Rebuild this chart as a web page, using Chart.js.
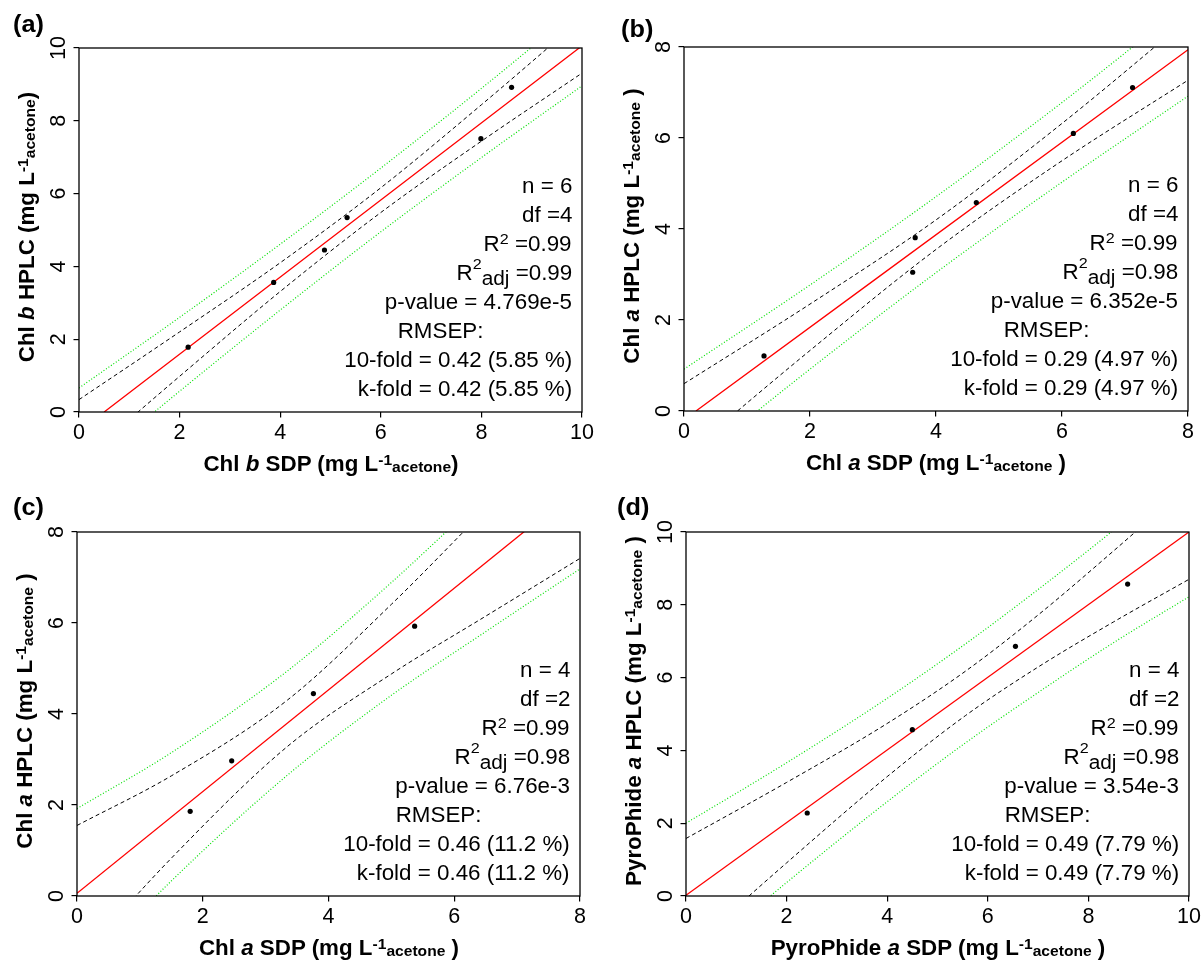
<!DOCTYPE html>
<html>
<head>
<meta charset="utf-8">
<title>SDP vs HPLC pigment calibration</title>
<script src="https://cdn.jsdelivr.net/npm/chart.js@4.4.1/dist/chart.umd.min.js"></script>
<style>
  html, body { margin: 0; padding: 0; background: #fff; }
  #page { position: relative; width: 1204px; height: 961px; overflow: hidden;
          font-family: "Liberation Sans", Arial, sans-serif; color: #000; }
  #page canvas { position: absolute; }
  .txt { position: absolute; white-space: nowrap; line-height: 22px; font-size: 21.5px; }
  .stat { transform-origin: 100% 50%; transform: scaleX(1.04); }
  .xttl { font-weight: bold; transform: translate(-50%, 0) scaleX(1.04); }
  .yttl { font-weight: bold; transform: translate(-50%, -50%) rotate(-90deg) scaleX(1.04); }
  .tag { font-weight: bold; font-size: 23px; transform-origin: 0 50%; transform: scaleX(1.1); }
  .tsup { position: relative; font-size: 15px; top: -6.5px; }
  .tsub { position: relative; font-size: 15px; top: 1px; }
  .sup { position: relative; font-size: 15.5px; top: -7px; }
  .sup2 { position: relative; font-size: 15.5px; top: -11px; }
  .sub { position: relative; font-size: 20px; top: 5px; }
</style>
</head>
<body>
<div id="page"></div>
<script>
// ---- panel (a): Chl b ----
const aSdp    = [2.17, 3.87, 4.88, 5.33, 7.99, 8.60];
const aHplc   = [1.78, 3.56, 4.45, 5.34, 7.51, 8.92];
const aFitX   = [0.5, 10];
const aFitY   = [0, 10.06];
const aBandX  = [0, 2, 4, 6, 8, 10];
const aConfUp = [0.34, 2.20, 4.10, 6.16, 8.44, 10.81];
const aConfLo = [-1.40, 0.98, 3.31, 5.48, 7.44, 9.31];
const aPredUp = [0.66, 2.60, 4.61, 6.70, 8.89, 11.16];
const aPredLo = [-1.72, 0.57, 2.80, 4.95, 6.99, 8.96];
const aStats  = ['6', '4', '0.99', '0.99', '4.769e-5', '0.42', '5.85'];

// ---- panel (b): Chl a ----
const bSdp    = [1.27, 3.63, 3.67, 4.64, 6.18, 7.12];
const bHplc   = [1.21, 3.05, 3.81, 4.58, 6.10, 7.11];
const bFitX   = [0.19, 8];
const bFitY   = [0, 7.94];
const bBandX  = [0, 2, 4, 6, 8];
const bConfUp = [0.60, 2.35, 4.20, 6.32, 8.61];
const bConfLo = [-0.99, 1.33, 3.55, 5.50, 7.27];
const bPredUp = [0.92, 2.77, 4.71, 6.78, 8.97];
const bPredLo = [-1.30, 0.92, 3.04, 5.03, 6.92];
const bStats  = ['6', '4', '0.99', '0.98', '6.352e-5', '0.29', '4.97'];

// ---- panel (c): Chl a ----
const cSdp    = [1.80, 2.46, 3.76, 5.37];
const cHplc   = [1.86, 2.97, 4.45, 5.93];
const cFitX   = [0, 8];
const cFitY   = [0.06, 9.0];
const cBandX  = [0, 1.5, 3.35, 5, 6.5, 8];
const cConfUp = [1.55, 2.64, 4.31, 6.41, 8.50, 10.58];
const cConfLo = [-1.43, 0.83, 3.29, 4.88, 6.15, 7.42];
const cPredUp = [1.92, 3.15, 4.95, 6.89, 8.83, 10.81];
const cPredLo = [-1.80, 0.33, 2.66, 4.41, 5.81, 7.19];
const cStats  = ['4', '2', '0.99', '0.98', '6.76e-3', '0.46', '11.2'];

// ---- panel (d): PyroPhide a ----
const dSdp    = [2.41, 4.50, 6.55, 8.78];
const dHplc   = [2.28, 4.57, 6.86, 8.57];
const dFitX   = [0, 10];
const dFitY   = [0.02, 10.0];
const dBandX  = [0, 2, 4, 5.56, 7, 8.5, 10];
const dConfUp = [1.58, 3.12, 4.74, 6.18, 7.72, 9.48, 11.30];
const dConfLo = [-1.54, 0.91, 3.28, 4.96, 6.29, 7.53, 8.70];
const dPredUp = [2.00, 3.66, 5.43, 6.93, 8.42, 10.05, 11.78];
const dPredLo = [-1.96, 0.37, 2.59, 4.21, 5.59, 6.96, 8.22];
const dStats  = ['4', '2', '0.99', '0.98', '3.54e-3', '0.49', '7.79'];

const UNIT = 'mg L<span class="tsup">-1</span><span class="tsub">acetone</span>';

// Layout of the four panels (page pixels): canvas origin and plot area [left, top, right, bottom]
const panels = [
  { tag: '(a)', tagPos: [13, 32], canvas: [0, 0], area: [79, 48, 582, 412], max: 10,
    sdp: aSdp, hplc: aHplc, fitX: aFitX, fitY: aFitY, bandX: aBandX,
    confUp: aConfUp, confLo: aConfLo, predUp: aPredUp, predLo: aPredLo, stats: aStats,
    xTitle: 'Chl <i>b</i> SDP (' + UNIT + ')', yTitle: 'Chl <i>b</i> HPLC (' + UNIT + ')' },
  { tag: '(b)', tagPos: [621, 37], canvas: [602, 0], area: [684, 47, 1188, 411], max: 8,
    sdp: bSdp, hplc: bHplc, fitX: bFitX, fitY: bFitY, bandX: bBandX,
    confUp: bConfUp, confLo: bConfLo, predUp: bPredUp, predLo: bPredLo, stats: bStats,
    xTitle: 'Chl <i>a</i> SDP (' + UNIT + ' )', yTitle: 'Chl <i>a</i> HPLC (' + UNIT + ' )' },
  { tag: '(c)', tagPos: [13, 515], canvas: [0, 481], area: [77, 532, 580, 896], max: 8,
    sdp: cSdp, hplc: cHplc, fitX: cFitX, fitY: cFitY, bandX: cBandX,
    confUp: cConfUp, confLo: cConfLo, predUp: cPredUp, predLo: cPredLo, stats: cStats,
    xTitle: 'Chl <i>a</i> SDP (' + UNIT + ' )', yTitle: 'Chl <i>a</i> HPLC (' + UNIT + ' )' },
  { tag: '(d)', tagPos: [617, 515], canvas: [602, 481], area: [686, 532, 1189, 896], max: 10,
    sdp: dSdp, hplc: dHplc, fitX: dFitX, fitY: dFitY, bandX: dBandX,
    confUp: dConfUp, confLo: dConfLo, predUp: dPredUp, predLo: dPredLo, stats: dStats,
    xTitle: 'PyroPhide <i>a</i> SDP (' + UNIT + ' )', yTitle: 'PyroPhide <i>a</i> HPLC (' + UNIT + ' )' }
];

const CANVAS_W = 602;
const CANVAS_H = 480;
const PAGE_W = 1204;
const FONT = '"Liberation Sans", Arial, sans-serif';
const TICK_SIZE = 21.5;
const page = document.getElementById('page');

// distance from top of a 22px line box to the text baseline (Arial metrics)
function baseOffset(fs) {
  return (22 - 1.117 * fs) / 2 + 0.905 * fs;
}

// Box around the plot area, like R's box()
const boxPlugin = {
  id: 'plotBox',
  afterDraw(chart) {
    const a = chart.chartArea, ctx = chart.ctx;
    ctx.save();
    ctx.strokeStyle = '#000';
    ctx.lineWidth = 1.3;
    ctx.strokeRect(a.left, a.top, a.right - a.left, a.bottom - a.top);
    ctx.restore();
  }
};

// R draws y tick labels parallel to the axis, centred on the tick
const yLabelsPlugin = {
  id: 'yLabels',
  afterDraw(chart) {
    const s = chart.scales.y, ctx = chart.ctx;
    ctx.save();
    ctx.font = TICK_SIZE + 'px ' + FONT;
    ctx.fillStyle = '#000';
    ctx.textAlign = 'center';
    ctx.textBaseline = 'middle';
    s.ticks.forEach(t => {
      ctx.save();
      ctx.translate(chart.chartArea.left - 19.5, s.getPixelForValue(t.value));
      ctx.rotate(-Math.PI / 2);
      ctx.fillText(t.label, 0, 0);
      ctx.restore();
    });
    ctx.restore();
  }
};

function toPoints(xs, ys) {
  return xs.map((x, i) => ({ x: x, y: ys[i] }));
}

function lineSet(xs, ys, color, width, dash) {
  return {
    data: toPoints(xs, ys),
    showLine: true,
    pointRadius: 0,
    borderColor: color,
    borderWidth: width,
    borderDash: dash,
    cubicInterpolationMode: 'monotone',
    clip: 0
  };
}

function addText(cls, html, left, top, right) {
  const el = document.createElement('div');
  el.className = 'txt ' + cls;
  el.innerHTML = html;
  el.style.top = top + 'px';
  if (right !== undefined) el.style.right = right + 'px';
  else el.style.left = left + 'px';
  page.appendChild(el);
}

function buildPanel(p) {
  const canvas = document.createElement('canvas');
  canvas.width = CANVAS_W;
  canvas.height = CANVAS_H;
  canvas.style.left = p.canvas[0] + 'px';
  canvas.style.top = p.canvas[1] + 'px';
  page.appendChild(canvas);

  const L = p.area[0] - p.canvas[0], T = p.area[1] - p.canvas[1];
  const R = p.area[2] - p.canvas[0], B = p.area[3] - p.canvas[1];

  const tickGrid = { display: true, drawOnChartArea: false, drawTicks: true, tickLength: 5.5, color: '#000', lineWidth: 1.2 };

  new Chart(canvas.getContext('2d'), {
    type: 'scatter',
    data: {
      datasets: [
        { data: toPoints(p.sdp, p.hplc), pointRadius: 2.6, pointBackgroundColor: '#000', pointBorderWidth: 0 },
        lineSet(p.fitX, p.fitY, '#ff0000', 1.3, []),
        lineSet(p.bandX, p.confUp, '#000', 1, [4, 3]),
        lineSet(p.bandX, p.confLo, '#000', 1, [4, 3]),
        lineSet(p.bandX, p.predUp, '#00e000', 1.2, [1, 2]),
        lineSet(p.bandX, p.predLo, '#00e000', 1.2, [1, 2])
      ]
    },
    options: {
      responsive: false,
      animation: false,
      devicePixelRatio: 1,
      layout: { padding: { left: 0, top: T, right: CANVAS_W - R, bottom: 0 } },
      plugins: { legend: { display: false }, tooltip: { enabled: false } },
      scales: {
        x: {
          type: 'linear', min: 0, max: p.max,
          afterFit: s => { s.height = CANVAS_H - B; },
          border: { display: false },
          grid: tickGrid,
          ticks: { stepSize: 2, color: '#000', padding: 3, maxRotation: 0, autoSkip: false,
                   font: { family: FONT, size: TICK_SIZE } }
        },
        y: {
          type: 'linear', min: 0, max: p.max,
          afterFit: s => { s.width = L; },
          border: { display: false },
          grid: tickGrid,
          ticks: { stepSize: 2, display: false }
        }
      }
    },
    plugins: [boxPlugin, yLabelsPlugin]
  });

  // Annotation block, right-aligned inside the plot
  const s = p.stats;
  const lines = [
    'n = ' + s[0],
    'df =' + s[1],
    'R<span class="sup">2</span> =' + s[2],
    'R<span class="sup2">2</span><span class="sub">adj</span> =' + s[3],
    'p-value = ' + s[4],
    'RMSEP:',
    '10-fold = ' + s[5] + ' (' + s[6] + ' %)',
    'k-fold = ' + s[5] + ' (' + s[6] + ' %)'
  ];
  const off = baseOffset(21.5);
  lines.forEach((html, i) => {
    const baseline = p.area[1] + 145.5 + i * 29.05;
    const rightEdge = html === 'RMSEP:' ? p.area[2] - 99 : p.area[2] - 10;
    addText('stat', html, null, baseline - off, PAGE_W - rightEdge);
  });

  // Axis titles
  addText('xttl', p.xTitle, (p.area[0] + p.area[2]) / 2, p.area[3] + 59.5 - off);
  addText('yttl', p.yTitle, p.area[0] - 44 - (off - 11), (p.area[1] + p.area[3]) / 2 - 3);

  // Panel letter
  addText('tag', p.tag, p.tagPos[0], p.tagPos[1] - baseOffset(23));
}

panels.forEach(buildPanel);
</script>
</body>
</html>
